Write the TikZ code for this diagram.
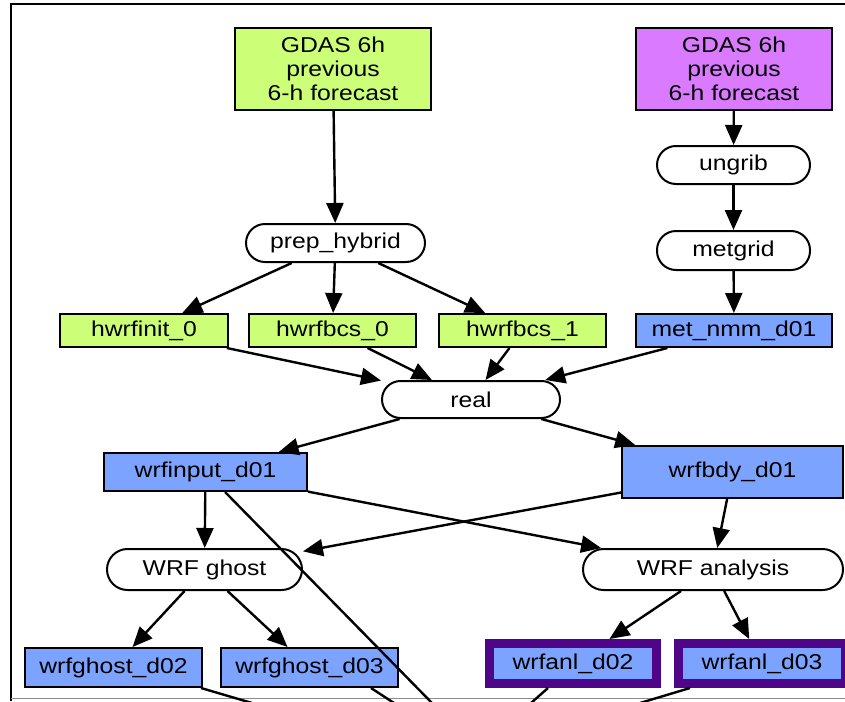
\documentclass[tikz,border=0pt]{standalone}
\usepackage{fontspec}
\setmainfont[FakeStretch=1.15]{Liberation Sans}
\usetikzlibrary{arrows.meta}
\definecolor{gfill}{HTML}{CCFF77}
\definecolor{pfill}{HTML}{DA7BFF}
\definecolor{bfill}{HTML}{7BA3FF}
\definecolor{anlborder}{HTML}{4E0587}
\tikzset{
  lbl/.style={font=\fontsize{21.5}{24}\selectfont, text=black, inner sep=0pt, align=center},
  boxnode/.style={lbl, draw=black, line width=2pt, rectangle},
  stadium/.style={lbl, draw=black, line width=2pt, fill=white},
  greenbox/.style={boxnode, fill=gfill},
  bluebox/.style={boxnode, fill=bfill},
  purplebox/.style={boxnode, fill=pfill},
  anlbox/.style={lbl, rectangle, draw=anlborder, line width=9pt, fill=bfill},
  flow/.style={line width=2.4pt, draw=black, -{Triangle[length=20pt,width=17pt]}},
  plain/.style={line width=2.4pt, draw=black},
  frameline/.style={line width=2pt, draw=black}
}
\begin{document}
\begin{tikzpicture}[x=1pt,y=-1pt]
\useasboundingbox (0,0) rectangle (845,701);
% frame
\draw[frameline] (11,701) -- (11,4) -- (850,4);
\draw[line width=1.2pt, draw=black!45] (11,698.5) -- (850,698.5);

% nodes
\node[greenbox, minimum width=196pt, minimum height=81pt] (g1) at (333,69) {GDAS 6h\\previous\\6-h forecast};
\node[purplebox, minimum width=196pt, minimum height=81pt] (g2) at (734,69) {GDAS 6h\\previous\\6-h forecast};
\node[stadium, rounded corners=19pt, minimum width=153pt, minimum height=38pt] (ungrib) at (733.5,165) {ungrib};
\node[stadium, rounded corners=19pt, minimum width=153pt, minimum height=39pt] (metgrid) at (733.5,250.5) {metgrid};
\node[stadium, rounded corners=19pt, minimum width=179pt, minimum height=38pt] (prep) at (335.5,243) {prep\_hybrid};
\node[greenbox, minimum width=168pt, minimum height=33pt] (hinit) at (144,330.5) {hwrfinit\_0};
\node[greenbox, minimum width=167pt, minimum height=33pt] (hb0) at (332.5,330.5) {hwrfbcs\_0};
\node[greenbox, minimum width=167pt, minimum height=33pt] (hb1) at (522.5,330.5) {hwrfbcs\_1};
\node[bluebox, minimum width=196pt, minimum height=33pt] (met) at (734,330.5) {met\_nmm\_d01};
\node[stadium, rounded corners=18.5pt, minimum width=178pt, minimum height=37pt] (real) at (471,399.5) {real};
\node[bluebox, minimum width=203pt, minimum height=38pt] (wi) at (205.5,472) {wrfinput\_d01};
\node[bluebox, minimum width=221pt, minimum height=52pt] (wb) at (732.5,472) {wrfbdy\_d01};
\node[stadium, rounded corners=20.5pt, minimum width=195pt, minimum height=41pt] (ghost) at (204.5,569.5) {WRF ghost};
\node[stadium, rounded corners=20.5pt, minimum width=260pt, minimum height=41pt] (anal) at (713,569.5) {WRF analysis};
\node[bluebox, minimum width=177pt, minimum height=39pt] (gd2) at (113.5,667.5) {wrfghost\_d02};
\node[bluebox, minimum width=177pt, minimum height=39pt] (gd3) at (309.5,667.5) {wrfghost\_d03};
\node[anlbox, minimum width=167pt, minimum height=40pt] (a2) at (573,663.5) {wrfanl\_d02};
\node[anlbox, minimum width=167pt, minimum height=40pt] (a3) at (762,663.5) {wrfanl\_d03};

% free ends below the crop
\coordinate (e1) at (432,703);
\coordinate (e2) at (252,703);
\coordinate (e3) at (394,703);
\coordinate (e4) at (531,703);
\coordinate (e5) at (640,703);

% connectors
\draw[flow] (g1) -- (prep);
\draw[flow] (g2) -- (ungrib);
\draw[flow] (ungrib) -- (metgrid);
\draw[flow] (metgrid) -- (met);
\draw[flow] (prep) -- (hinit);
\draw[flow] (prep) -- (hb0);
\draw[flow] (prep) -- (hb1);
\draw[flow] (hinit) -- (real);
\draw[flow] (hb0) -- (real);
\draw[flow] (hb1) -- (real);
\draw[flow] (met) -- (real);
\draw[flow] (real) -- (wi);
\draw[flow] (real) -- (wb);
\draw[flow] (wi) -- (ghost);
\draw[flow] (wi) -- (anal);
\draw[flow] (wb) -- (ghost);
\draw[flow] (wb) -- (anal);
\draw[flow] (ghost) -- (gd2);
\draw[flow] (ghost) -- (gd3);
\draw[flow] (anal) -- (a2);
\draw[flow] (anal) -- (a3);
\draw[plain] (wi) -- (e1);
\draw[plain] ([xshift=-2pt]gd2.south east) -- (e2);
\draw[plain] ([xshift=-28pt]gd3.south east) -- (e3);
\draw[plain] ([xshift=-25pt]a2.south) -- (e4);
\draw[plain] ([xshift=-72pt]a3.south) -- (e5);
\end{tikzpicture}
\end{document}
